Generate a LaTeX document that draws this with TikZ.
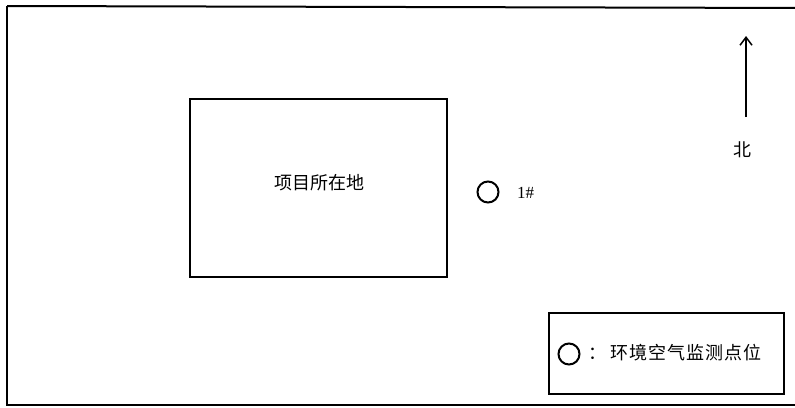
\documentclass[tikz,border=0pt]{standalone}
\usepackage{fontspec}
\usetikzlibrary{arrows.meta}
\newfontfamily\cjk{Noto Sans CJK SC}
\setmainfont{Liberation Serif}
\begin{document}
\begin{tikzpicture}[x=1pt,y=-1pt,
  frame/.style={draw=black,line width=2pt},
  pt/.style={circle,draw=black,line width=2pt,minimum size=21pt,inner sep=0pt},
  lbl/.style={font=\cjk\fontsize{18}{18}\selectfont,inner sep=0pt}]
\useasboundingbox (0,0) rectangle (795,407);
\path[clip] (0,0) rectangle (795,407);
\draw[frame] (7,6) -- (805,8);
\draw[frame] (7,6) -- (7,405) -- (805,405);
\node[frame,minimum width=257pt,minimum height=178pt,inner sep=0pt] (site) at (318.5,188) {};
\node[lbl] (sitelbl) at (319,183) {项目所在地};
\node[pt] (p1) at (488,192) {};
\node[font=\fontsize{17}{17}\selectfont,inner sep=0pt,anchor=west] (p1lbl) at (517,193) {1\#};
\coordinate (ntail) at (746,117);
\coordinate (nhead) at (746,36);
\draw[line width=1.5pt,-{Straight Barb[length=8pt,width=12pt]}] (ntail) -- (nhead);
\node[lbl] (north) at (742,150) {北};
\node[frame,minimum width=235pt,minimum height=81pt,inner sep=0pt] (legend) at (666.5,353.5) {};
\node[pt] (lp) at (569,354) {};
\node[lbl,anchor=west] (legtxt) at (584,353) {\kern4pt ：\kern4pt 环\kern1pt 境\kern1pt 空\kern1pt 气\kern1pt 监\kern1pt 测\kern1pt 点\kern1pt 位};
\end{tikzpicture}
\end{document}
